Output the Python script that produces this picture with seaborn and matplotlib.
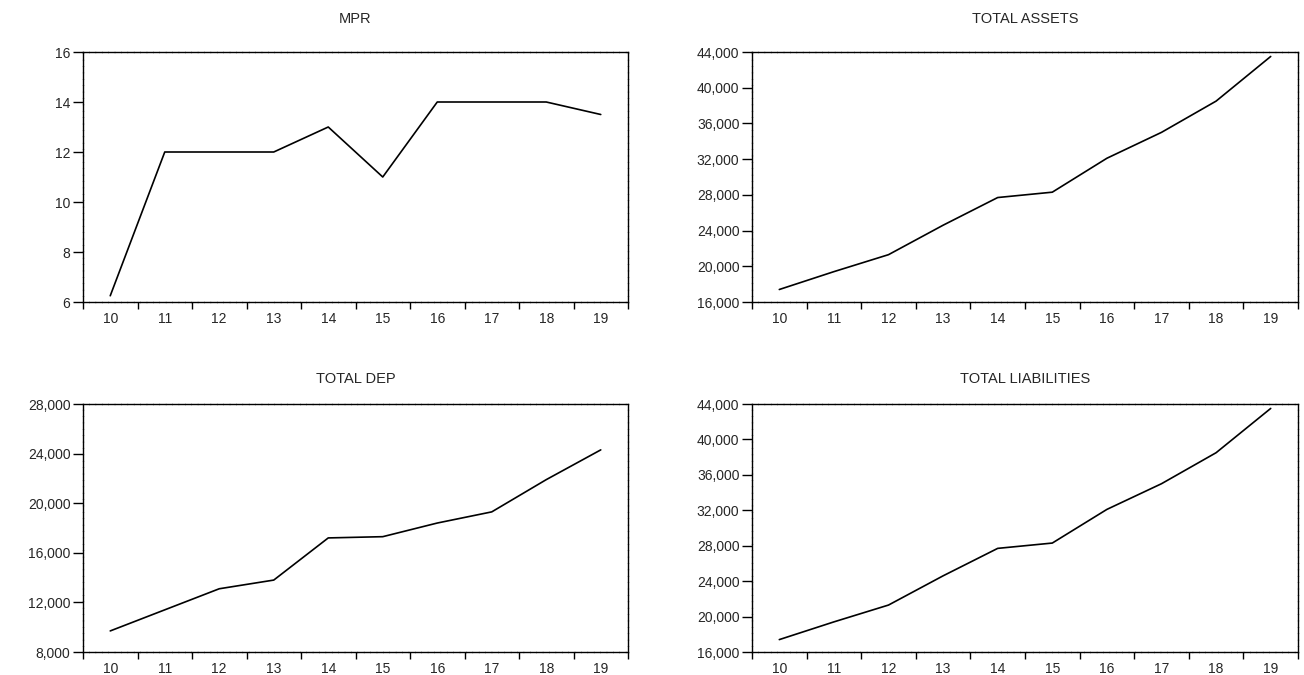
import numpy as np
import pandas as pd
import matplotlib
matplotlib.use("Agg")
import matplotlib.pyplot as plt
import matplotlib.ticker as mticker
import seaborn as sns

# =====================================================
# DATA
# =====================================================

years = [10, 11, 12, 13, 14, 15, 16, 17, 18, 19]

mpr = [6.25, 12.0, 12.0, 12.0, 13.0, 11.0, 14.0, 14.0, 14.0, 13.5]
total_assets = [17400, 19400, 21300, 24600, 27700, 28300, 32100, 35000, 38500, 43500]
total_dep = [9700, 11400, 13100, 13800, 17200, 17300, 18400, 19300, 21900, 24300]
total_liab = [17400, 19400, 21300, 24600, 27700, 28300, 32100, 35000, 38500, 43500]

titles = ["MPR", "TOTAL ASSETS", "TOTAL DEP", "TOTAL LIABILITIES"]
y_limits = [(6, 16), (16000, 44000), (8000, 28000), (16000, 44000)]
y_steps = [2, 4000, 4000, 4000]

df = pd.DataFrame({
    "year": years,
    "MPR": mpr,
    "TOTAL ASSETS": total_assets,
    "TOTAL DEP": total_dep,
    "TOTAL LIABILITIES": total_liab,
})

# =====================================================
# STYLE
# =====================================================

sns.set_style("white")
plt.rcParams['font.family'] = ['Liberation Sans', 'DejaVu Sans']

W, H = 1304, 675
fig = plt.figure(figsize=(W / 100, H / 100), dpi=100)

# axes rectangles in pixels: left, top, right, bottom
boxes = [
    (83, 52, 628, 302),
    (752, 52, 1298, 302),
    (83, 404, 628, 652),
    (752, 404, 1298, 652),
]
title_pads = [21, 21, 15, 15]

for i, name in enumerate(titles):
    l, t, r, b = boxes[i]
    ax = fig.add_axes([l / W, 1 - b / H, (r - l) / W, (b - t) / H])

    sns.lineplot(data=df, x="year", y=name, ax=ax,
                 color="black", linewidth=1.2)

    ax.set_xlim(9.5, 19.5)
    ax.set_ylim(*y_limits[i])

    lo, hi = y_limits[i]
    ax.set_yticks(np.arange(lo, hi + 1, y_steps[i]))
    if hi > 100:
        ax.yaxis.set_major_formatter(mticker.StrMethodFormatter("{x:,.0f}"))

    # labels in the middle, tick marks on the year boundaries
    ax.set_xticks(years)
    ax.set_xticks(np.arange(9.5, 20, 1), minor=True)
    ax.tick_params(axis="x", which="major", length=0, pad=7, labelsize=10)
    ax.tick_params(axis="x", which="minor", length=5, width=1,
                   direction="out", color="black", bottom=True)
    ax.tick_params(axis="y", which="major", length=7, width=1,
                   direction="out", color="black", left=True, pad=2,
                   labelsize=10)

    for sp in ax.spines.values():
        sp.set_color("black")
        sp.set_linewidth(1.0)
        sp.set_linestyle((0, (4, 0.6)))

    ax.set_xlabel("")
    ax.set_ylabel("")
    ax.set_title(name, fontsize=10.5, pad=title_pads[i])

fig.savefig("out.png", dpi=100)
